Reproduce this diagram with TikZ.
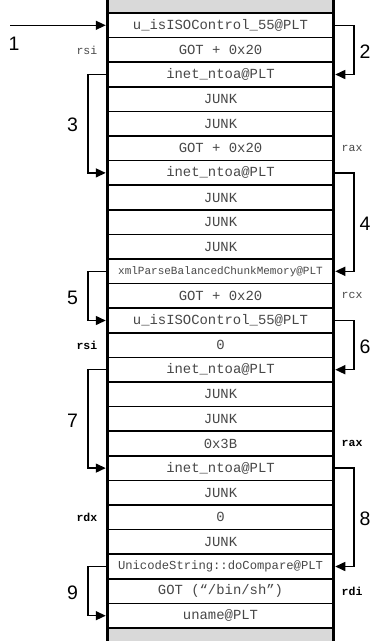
\documentclass[tikz,border=0pt]{standalone}
\usepackage{fontspec}
\setmainfont{Liberation Sans}
\newfontfamily\monof{Liberation Mono}
\usetikzlibrary{arrows.meta}
\begin{document}
\begin{tikzpicture}[x=1pt,y=-1pt,
  cell/.style={draw, line width=1.5pt, minimum width=226pt, minimum height=24.6pt,
    inner sep=0pt, outer sep=0pt, text=black!72,
    font=\monof\fontsize{13.9}{15}\selectfont},
  smallcell/.style={cell, font=\monof\fontsize{#1}{13}\selectfont},
  reg/.style={inner sep=0pt, text=black!72, font=\monof\fontsize{11.5}{12}\selectfont},
  regb/.style={reg, text=black, font=\monof\bfseries\fontsize{11.5}{12}\selectfont},
  num/.style={inner sep=0pt, font=\fontsize{19.5}{21}\selectfont},
  jump/.style={line width=1.5pt, -{Triangle[length=10pt,width=9pt]}, shorten >=1.75pt},
  wall/.style={line width=3.5pt},
  endfill/.style={fill=gray!30}
]
\useasboundingbox (0,0) rectangle (373,641);
% gray ends
\fill[endfill] (107.5,0) rectangle (333.5,13);
\fill[endfill] (107.5,628) rectangle (333.5,641);
% cells
\node[cell] (r1)  at (220.5,25.30)  {u\_isISOControl\_55@PLT};
\node[cell] (r2)  at (220.5,49.90)  {GOT + 0x20};
\node[cell] (r3)  at (220.5,74.50)  {inet\_ntoa@PLT};
\node[cell] (r4)  at (220.5,99.10)  {JUNK};
\node[cell] (r5)  at (220.5,123.70) {JUNK};
\node[cell] (r6)  at (220.5,148.30) {GOT + 0x20};
\node[cell] (r7)  at (220.5,172.90) {inet\_ntoa@PLT};
\node[cell] (r8)  at (220.5,197.50) {JUNK};
\node[cell] (r9)  at (220.5,222.10) {JUNK};
\node[cell] (r10) at (220.5,246.70) {JUNK};
\node[smallcell=11] (r11) at (220.5,271.30) {xmlParseBalancedChunkMemory@PLT};
\node[cell] (r12) at (220.5,295.90) {GOT + 0x20};
\node[cell] (r13) at (220.5,320.50) {u\_isISOControl\_55@PLT};
\node[cell] (r14) at (220.5,345.10) {0};
\node[cell] (r15) at (220.5,369.70) {inet\_ntoa@PLT};
\node[cell] (r16) at (220.5,394.30) {JUNK};
\node[cell] (r17) at (220.5,418.90) {JUNK};
\node[cell] (r18) at (220.5,443.50) {0x3B};
\node[cell] (r19) at (220.5,468.10) {inet\_ntoa@PLT};
\node[cell] (r20) at (220.5,492.70) {JUNK};
\node[cell] (r21) at (220.5,517.30) {0};
\node[cell] (r22) at (220.5,541.90) {JUNK};
\node[smallcell=12.2] (r23) at (220.5,566.50) {UnicodeString::doCompare@PLT};
\node[cell] (r24) at (220.5,591.10) {GOT (“/bin/sh”)};
\node[cell] (r25) at (220.5,615.70) {uname@PLT};
% walls
\draw[wall] (107.5,0) -- (107.5,641);
\draw[wall] (333.5,0) -- (333.5,641);
% registers
\node[reg,  anchor=east] (g1) at (97.5,49.9)  {rsi};
\node[reg,  anchor=west] (g2) at (341.5,148.3) {rax};
\node[reg,  anchor=west] (g3) at (341.5,295.9) {rcx};
\node[regb, anchor=east] (g4) at (97.5,345.1) {rsi};
\node[regb, anchor=west] (g5) at (341.5,443.5) {rax};
\node[regb, anchor=east] (g6) at (97.5,517.3) {rdx};
\node[regb, anchor=west] (g7) at (341.5,591.1) {rdi};
% entry arrow
\coordinate (start) at (10,25.3);
\draw[jump] (start) -- (r1.west);
% loops
\draw[jump] (r1.east)  -- ++(20.5,0) |- (r3.east);
\draw[jump] (r3.west)  -- ++(-19.5,0) |- (r7.west);
\draw[jump] (r7.east)  -- ++(20.5,0) |- (r11.east);
\draw[jump] (r11.west) -- ++(-19.5,0) |- (r13.west);
\draw[jump] (r13.east) -- ++(20.5,0) |- (r15.east);
\draw[jump] (r15.west) -- ++(-19.5,0) |- (r19.west);
\draw[jump] (r19.east) -- ++(20.5,0) |- (r23.east);
\draw[jump] (r23.west) -- ++(-19.5,0) |- (r25.west);
% step numbers
\node[num] (n1) at (14,43.5)   {1};
\node[num] (n2) at (365,51.5)  {2};
\node[num] (n3) at (72.5,125)  {3};
\node[num] (n4) at (365,223.5) {4};
\node[num] (n5) at (72.5,297.5){5};
\node[num] (n6) at (365,346.5) {6};
\node[num] (n7) at (72.5,421)  {7};
\node[num] (n8) at (365,519)   {8};
\node[num] (n9) at (72.5,593)  {9};
\end{tikzpicture}
\end{document}
